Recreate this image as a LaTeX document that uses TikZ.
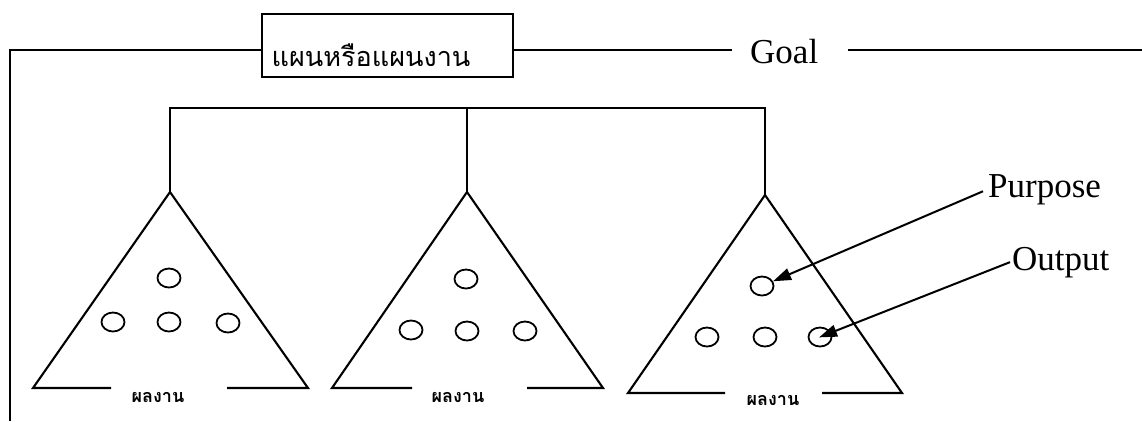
\documentclass[tikz,border=0pt]{standalone}
\usepackage{fontspec}
\setmainfont{Liberation Serif}
\newfontfamily\thaifont[Script=Thai]{Loma}
\usetikzlibrary{arrows.meta,shapes.geometric}
\begin{document}
\begin{tikzpicture}[x=1pt,y=-1pt,
  ln/.style={line width=2.3pt},
  tri/.style={line width=2.1pt, line join=miter},
  circ/.style={draw, ellipse, line width=1.8pt, minimum width=23pt, minimum height=19pt, inner sep=0pt},
  lbl/.style={font=\fontsize{35}{35}\selectfont, inner sep=0pt, anchor=base west},
  res/.style={font=\thaifont\bfseries\fontsize{18}{18}\selectfont, inner sep=0pt},
  arr/.style={line width=2pt, -{Triangle[length=18pt,width=12pt]}}
]
\useasboundingbox (0,0) rectangle (1142,421);
% top: plan box and goal
\node[draw, line width=2.3pt, minimum width=251pt, minimum height=63pt, inner sep=0pt] (plan) at (387.5,45.5) {};
\node[font=\thaifont\fontsize{27}{27}\selectfont, inner sep=0pt] (plantext) at (371,55) {แผนหรือแผนงาน};
\node[lbl] (goal) at (750,63) {Goal};
\coordinate (gy) at (0,50);
\coordinate (fb) at (10,421);
\coordinate (g1) at (732,50);
\coordinate (g2) at (848,50);
\coordinate (re) at (1142,50);
\draw[ln] (fb) |- (plan.west |- gy);
\draw[ln] (plan.east |- gy) -- (g1);
\draw[ln] (g2) -- (re);
% tree
\coordinate (tl) at (170,108);
\coordinate (tm) at (467,108);
\coordinate (tr) at (765,108);
\coordinate (a1) at (170,192);
\coordinate (a2) at (467,192);
\coordinate (a3) at (765,195);
\draw[ln] (a1) -- (tl) -- (tr) -- (a3);
\draw[ln] (tm) -- (a2);
% triangle 1
\coordinate (bl1) at (33,388);
\coordinate (br1) at (308,388);
\coordinate (gl1) at (111,388);
\coordinate (gr1) at (227,388);
\draw[tri] (gl1) -- (bl1) -- (a1) -- (br1) -- (gr1);
\node[res] (r1) at (158,397) {ผลงาน};
\node[circ] (c1a) at (169,278) {};
\node[circ] (c1b) at (113,322) {};
\node[circ] (c1c) at (169,322) {};
\node[circ] (c1d) at (228,323) {};
% triangle 2
\coordinate (bl2) at (332,388);
\coordinate (br2) at (603,388);
\coordinate (gl2) at (412,388);
\coordinate (gr2) at (527,388);
\draw[tri] (gl2) -- (bl2) -- (a2) -- (br2) -- (gr2);
\node[res] (r2) at (458,397) {ผลงาน};
\node[circ] (c2a) at (466,279) {};
\node[circ] (c2b) at (411,330) {};
\node[circ] (c2c) at (467,331) {};
\node[circ] (c2d) at (525,331) {};
% triangle 3
\coordinate (bl3) at (628,393);
\coordinate (br3) at (902,393);
\coordinate (gl3) at (725,393);
\coordinate (gr3) at (822,393);
\draw[tri] (gl3) -- (bl3) -- (a3) -- (br3) -- (gr3);
\node[res] (r3) at (773,400) {ผลงาน};
\node[circ] (c3a) at (762,286) {};
\node[circ] (c3b) at (707,337) {};
\node[circ] (c3c) at (765,337) {};
\node[circ] (c3d) at (820,337) {};
% labels and arrows
\node[lbl] (purp) at (988,197) {Purpose};
\node[lbl] (outp) at (1012,270) {Output};
\draw[arr] ([xshift=-5pt,yshift=-2pt]purp.west) -- (c3a);
\draw[arr, shorten >=-1pt] ([xshift=-2pt]outp.west) -- (c3d.center);
\end{tikzpicture}
\end{document}
